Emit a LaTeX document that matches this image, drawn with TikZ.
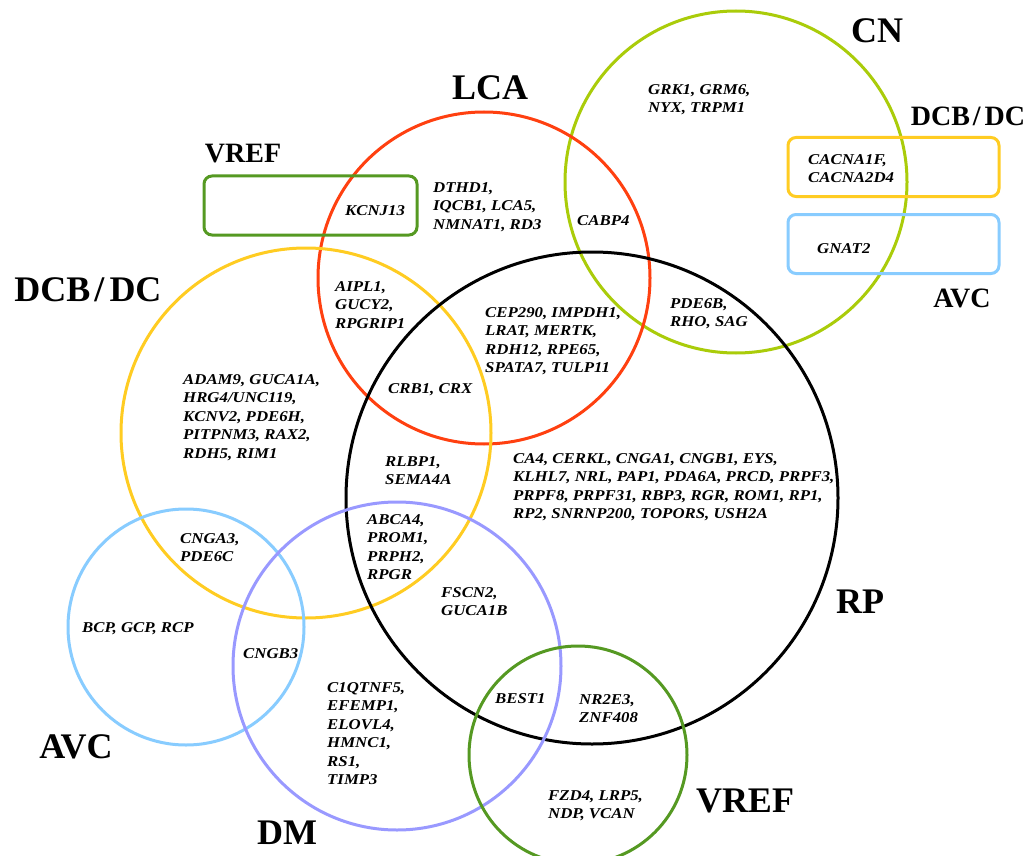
\documentclass[tikz,border=0pt]{standalone}
\usepackage{fontspec}
\setmainfont{Liberation Serif}
\newfontfamily\genefam[FakeStretch=1.12]{Liberation Serif}
\definecolor{lcared}{RGB}{255,64,16}
\definecolor{cngreen}{RGB}{170,204,10}
\definecolor{dcbyellow}{RGB}{255,204,34}
\definecolor{avcblue}{RGB}{136,204,255}
\definecolor{dmviolet}{RGB}{153,153,255}
\definecolor{vrefgreen}{RGB}{85,153,34}
\tikzset{
  setring/.style={circle, draw, line width=3pt, inner sep=0pt, minimum size=#1},
  setbox/.style={draw, line width=3pt, rounded corners=8pt, inner sep=0pt,
    minimum width=211pt, minimum height=59pt},
  genes/.style={font=\genefam\bfseries\itshape\fontsize{15}{18.5}\selectfont,
    align=left, anchor=north west, inner sep=0pt, yshift=5pt},
  biglabel/.style={font=\bfseries\fontsize{36}{40}\selectfont, anchor=base, inner sep=0pt},
  smalllabel/.style={font=\bfseries\fontsize{28}{32}\selectfont, anchor=base, inner sep=0pt}
}
\begin{document}
\begin{tikzpicture}[x=1pt, y=-1pt]
\useasboundingbox (0,0) rectangle (1031,856);
\fill[white] (0,0) rectangle (1031,856);

% disease sets
\node[setring=342pt, draw=cngreen]   (cn)   at (736,182) {};
\node[setring=332pt, draw=lcared]    (lca)  at (484,278) {};
\node[setring=370pt, draw=dcbyellow] (dcb)  at (306,433) {};
\node[setring=492pt, draw=black]     (rp)   at (592,498) {};
\node[setring=236pt, draw=avcblue]   (avc)  at (186,627) {};
\node[setring=328pt, draw=dmviolet]  (dm)   at (397,666) {};
\node[setring=218pt, draw=vrefgreen] (vref) at (578,755) {};

% single-gene boxes
\node[setbox, minimum width=213pt, draw=vrefgreen] (vrefbox) at (310.5,205.5) {};
\node[setbox, draw=dcbyellow] (dcbbox) at (893.5,167) {};
\node[setbox, draw=avcblue]   (avcbox) at (893.5,244) {};

% set labels
\node[biglabel]   (lcalab)   at (490,100) {LCA};
\node[biglabel]   (cnlab)    at (877,43)  {CN};
\node[biglabel]   (dcblab)   at (88,301)  {DCB\kern4pt/\kern5ptDC};
\node[biglabel]   (rplab)    at (860,613) {RP};
\node[biglabel]   (avclab)   at (76,758)  {AVC};
\node[biglabel]   (dmlab)    at (287,844) {DM};
\node[biglabel]   (vreflab)  at (745,812) {VREF};
\node[smalllabel] (vrefblab) at (243,163) {VREF};
\node[smalllabel] (dcbblab)  at (968,126) {DCB\kern3pt/\kern4ptDC};
\node[smalllabel] (avcblab)  at (962,307) {AVC};

% genes
\node[genes] (g1)  at (345,210) {KCNJ13};
\node[genes] (g2)  at (433,187) {DTHD1,\\IQCB1, LCA5,\\NMNAT1, RD3};
\node[genes] (g3)  at (648,89)  {GRK1, GRM6,\\NYX, TRPM1};
\node[genes] (g4)  at (577,220) {CABP4};
\node[genes] (g5)  at (808,159) {CACNA1F,\\CACNA2D4};
\node[genes] (g6)  at (817,248) {GNAT2};
\node[genes] (g7)  at (670,303) {PDE6B,\\RHO, SAG};
\node[genes] (g8)  at (335,286) {AIPL1,\\GUCY2,\\RPGRIP1};
\node[genes] (g9)  at (183,379) {ADAM9, GUCA1A,\\HRG4/UNC119,\\KCNV2, PDE6H,\\PITPNM3, RAX2,\\RDH5, RIM1};
\node[genes] (g10) at (388,388) {CRB1, CRX};
\node[genes] (g11) at (485,312) {CEP290, IMPDH1,\\LRAT, MERTK,\\RDH12, RPE65,\\SPATA7, TULP11};
\node[genes] (g12) at (385,461) {RLBP1,\\SEMA4A};
\node[genes] (g13) at (513,458) {CA4, CERKL, CNGA1, CNGB1, EYS,\\KLHL7, NRL, PAP1, PDA6A, PRCD, PRPF3,\\PRPF8, PRPF31, RBP3, RGR, ROM1, RP1,\\RP2, SNRNP200, TOPORS, USH2A};
\node[genes] (g14) at (180,538) {CNGA3,\\PDE6C};
\node[genes] (g15) at (367,519) {ABCA4,\\PROM1,\\PRPH2,\\RPGR};
\node[genes] (g16) at (82,627)  {BCP, GCP, RCP};
\node[genes] (g17) at (243,653) {CNGB3};
\node[genes] (g18) at (441,592) {FSCN2,\\GUCA1B};
\node[genes] (g19) at (327,687) {C1QTNF5,\\EFEMP1,\\ELOVL4,\\HMNC1,\\RS1,\\TIMP3};
\node[genes] (g20) at (495,698) {BEST1};
\node[genes] (g21) at (579,699) {NR2E3,\\ZNF408};
\node[genes] (g22) at (548,795) {FZD4, LRP5,\\NDP, VCAN};
\end{tikzpicture}
\end{document}
